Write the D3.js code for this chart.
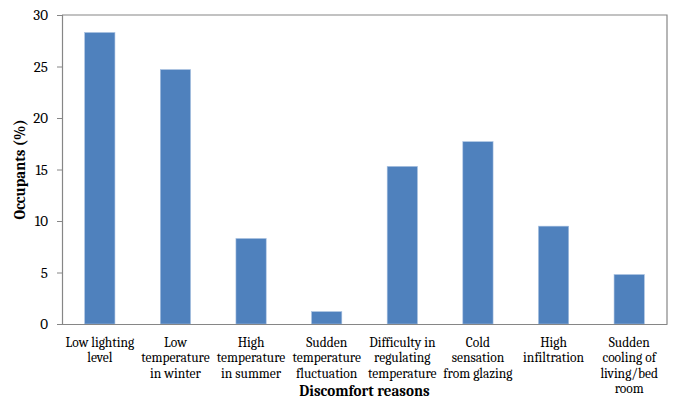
<!DOCTYPE html>
<html>
<head>
<meta charset="utf-8">
<script src="https://cdn.jsdelivr.net/npm/d3@7"></script>
<style>
  body { margin: 0; background: #fff; }
  svg { display: block; }
  text { font-family: Cambria, "Liberation Serif", "DejaVu Serif", serif; fill: #000; }
</style>
</head>
<body>
<svg id="chart" width="675" height="403"></svg>
<script>
// Discomfort reasons reported by occupants (% of respondents)
const categories = [
  ["Low lighting", "level"],
  ["Low", "temperature", "in winter"],
  ["High", "temperature", "in summer"],
  ["Sudden", "temperature", "fluctuation"],
  ["Difficulty in", "regulating", "temperature"],
  ["Cold", "sensation", "from glazing"],
  ["High", "infiltration"],
  ["Sudden", "cooling of", "living/bed", "room"]
];
const occupants = [28.3, 24.7, 8.3, 1.2, 15.3, 17.7, 9.5, 4.8];
const yTicks = [0, 5, 10, 15, 20, 25, 30];

const svg = d3.select("#chart");
const margin = { left: 62, top: 15, right: 8, bottom: 79 };
const W = 675, H = 403;
const x0 = margin.left, x1 = W - margin.right;
const y0 = H - margin.bottom, y1 = margin.top;

const keys = d3.range(categories.length);
const x = d3.scaleBand().domain(keys).range([x0, x1]).paddingInner(0.6).paddingOuter(0.3);
const y = d3.scaleLinear().domain([0, 30]).range([y0, y1]);

const axisColor = "#868686";

// Bars
svg.append("g").selectAll("rect")
  .data(occupants)
  .join("rect")
  .attr("x", (d, i) => x(i))
  .attr("width", x.bandwidth())
  .attr("y", d => y(d))
  .attr("height", d => y(0) - y(d))
  .attr("fill", "#4F81BD")
  .attr("stroke", "#A7C0E0")
  .attr("stroke-width", 0.6);

// Plot frame (top and right edges)
svg.append("path")
  .attr("d", `M${x0},${y1}H${x1}V${y0}`)
  .attr("fill", "none")
  .attr("stroke", axisColor)
  .attr("stroke-width", 1.2);

// Y axis
const yAxis = svg.append("g")
  .attr("transform", `translate(${x0},0)`)
  .call(d3.axisLeft(y).tickValues(yTicks).tickSize(5).tickPadding(9));
yAxis.select(".domain").attr("stroke", axisColor).attr("stroke-width", 1.2);
yAxis.selectAll(".tick line").attr("stroke", axisColor);
yAxis.selectAll(".tick text")
  .style("font-family", "Cambria, 'Liberation Serif', serif")
  .attr("font-size", 15);

// X axis line
const xAxis = svg.append("g")
  .attr("transform", `translate(0,${y0})`)
  .call(d3.axisBottom(x).tickSize(0).tickFormat(""));
xAxis.select(".domain").attr("stroke", axisColor).attr("stroke-width", 1.2);

// Multi-line category labels
const lab = svg.append("g").selectAll("text")
  .data(categories)
  .join("text")
  .attr("x", (d, i) => x(i) + x.bandwidth() / 2)
  .attr("y", y0 + 23)
  .attr("text-anchor", "middle")
  .attr("font-size", 13.5);
lab.selectAll("tspan")
  .data(d => d)
  .join("tspan")
  .attr("x", function () { return this.parentNode.getAttribute("x"); })
  .attr("dy", (d, i) => i === 0 ? 0 : 15.3)
  .text(d => d);

// Axis titles
svg.append("text")
  .attr("x", (x0 + x1) / 2)
  .attr("y", 396)
  .attr("text-anchor", "middle")
  .attr("font-size", 15)
  .attr("font-weight", "bold")
  .text("Discomfort reasons");

svg.append("text")
  .attr("transform", `translate(25,${(y0 + y1) / 2}) rotate(-90)`)
  .attr("text-anchor", "middle")
  .attr("font-size", 15)
  .attr("font-weight", "bold")
  .text("Occupants (%)");
</script>
</body>
</html>
